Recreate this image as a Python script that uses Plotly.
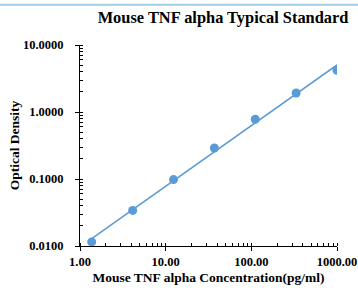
import numpy as np
import plotly.graph_objects as go

concentration = [1.37, 4.12, 12.35, 37.04, 111.11, 333.33, 1000.0]
optical_density = [0.0115, 0.034, 0.098, 0.29, 0.78, 1.92, 4.2]
x_ticks = [1, 10, 100, 1000]
x_tick_labels = ["1.00", "10.00", "100.00", "1000.00"]
y_ticks = [0.01, 0.1, 1, 10]
y_tick_labels = ["0.0100", "0.1000", "1.0000", "10.0000"]

# power (log-log) trendline fitted to the data
lx = np.log10(concentration)
ly = np.log10(optical_density)
b, a = np.polyfit(lx, ly, 1)
fit_x = [min(concentration), max(concentration)]
fit_y = [10 ** (a + b * np.log10(v)) for v in fit_x]

color = "#5b9bd5"
font = "Liberation Serif"

fig = go.Figure()
fig.add_trace(go.Scatter(x=fit_x, y=fit_y, mode="lines",
                         line=dict(color=color, width=1.5), hoverinfo="skip"))
fig.add_trace(go.Scatter(x=concentration, y=optical_density, mode="markers",
                         marker=dict(color=color, size=9)))

minor = dict(ticks="inside", ticklen=3, tickcolor="black", dtick="D1", showgrid=False)

fig.update_layout(
    width=358, height=288,
    margin=dict(l=80, r=21, t=45, b=42),
    paper_bgcolor="white", plot_bgcolor="white",
    showlegend=False,
    font=dict(family=font, color="black"),
    title=dict(text="Mouse TNF alpha Typical Standard",
               font=dict(family=font, size=16.4, weight="bold", color="black"),
               x=0.623, xanchor="center", y=0.94, yanchor="middle"),
    xaxis=dict(type="log", range=[0, 3], tickvals=x_ticks, ticktext=x_tick_labels,
               automargin=False,
               showline=True, linecolor="black", linewidth=1,
               ticks="outside", ticklen=4, tickcolor="black",
               minor=minor,
               showgrid=False, zeroline=False,
               tickfont=dict(family=font, size=12.5, weight="bold"),
               title=dict(text="Mouse TNF alpha Concentration(pg/ml)",
                          font=dict(family=font, size=13.5, weight="bold"), standoff=4)),
    yaxis=dict(type="log", range=[-2, 1], tickvals=y_ticks, ticktext=y_tick_labels,
               automargin=False,
               showline=True, linecolor="black", linewidth=1,
               ticks="outside", ticklen=4, tickcolor="black",
               ticklabelstandoff=9,
               minor=minor,
               showgrid=False, zeroline=False,
               tickfont=dict(family=font, size=12.5, weight="bold"),
               title=dict(text="Optical Density",
                          font=dict(family=font, size=13.5, weight="bold"), standoff=0)),
)
fig.add_shape(type="line", xref="paper", yref="paper", x0=-0.5, x1=1.2, y0=1.2, y1=1.2,
              line=dict(color="#9fcbe8", width=2), layer="above")
fig.write_html("out.html", config={"displayModeBar": False},
               post_script="document.body.style.margin='0';")
